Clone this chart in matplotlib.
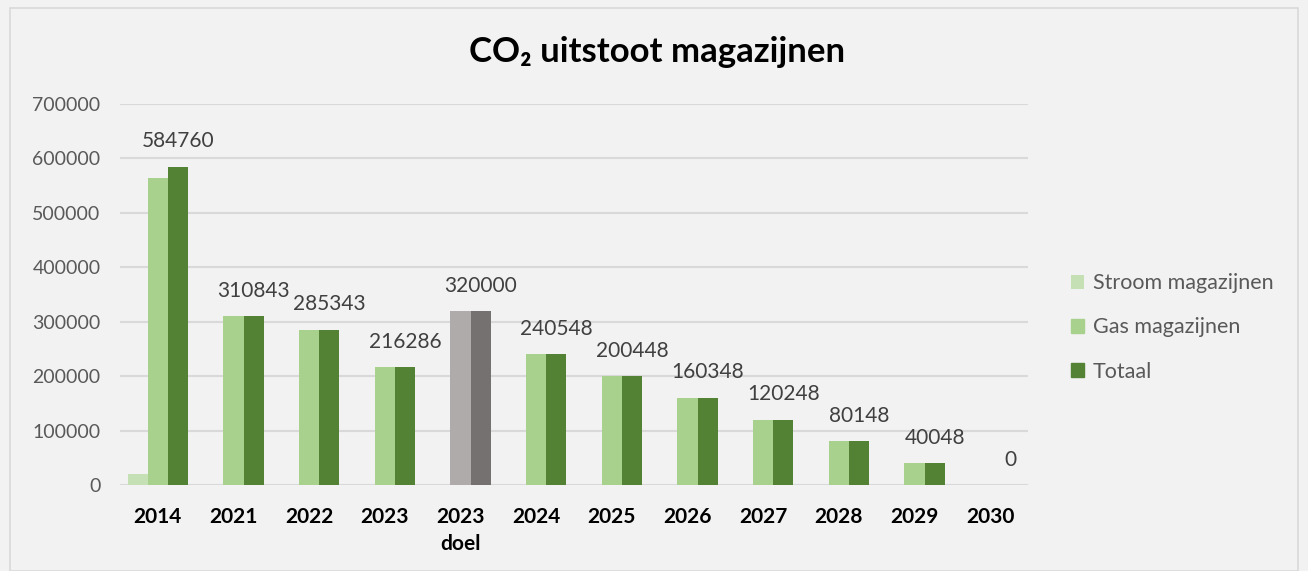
import matplotlib
matplotlib.use("Agg")
import matplotlib.pyplot as plt
import numpy as np
from matplotlib.patches import Rectangle

categories = ["2014", "2021", "2022", "2023", "2023\ndoel", "2024", "2025",
              "2026", "2027", "2028", "2029", "2030"]
stroom = [20000, 0, 0, 0, 0, 0, 0, 0, 0, 0, 0, 0]
gas = [564760, 310843, 285343, 216286, 320000, 240548, 200448, 160348,
       120248, 80148, 40048, 0]
totaal = [584760, 310843, 285343, 216286, 320000, 240548, 200448, 160348,
          120248, 80148, 40048, 0]
series_names = ["Stroom magazijnen", "Gas magazijnen", "Totaal"]
highlight_index = 4

plt.rcParams['font.family'] = ['Lato', 'DejaVu Sans']

c_stroom = "#C5E0B4"
c_gas = "#A9D18E"
c_tot = "#548235"
c_gas_hl = "#AFABAB"
c_tot_hl = "#767171"
bg = "#F2F2F2"

fig = plt.figure(figsize=(13.08, 5.71), dpi=100, facecolor=bg)
ax = fig.add_axes([120/1308, 86/571, 908/1308, 381/571])
ax.set_facecolor(bg)

x = np.arange(len(categories))
w = 0.265
gas_colors = [c_gas_hl if i == highlight_index else c_gas for i in range(len(x))]
tot_colors = [c_tot_hl if i == highlight_index else c_tot for i in range(len(x))]

b1 = ax.bar(x - w, stroom, w, color=c_stroom, label=series_names[0], zorder=3)
b2 = ax.bar(x, gas, w, color=gas_colors, label=series_names[1], zorder=3)
b3 = ax.bar(x + w, totaal, w, color=tot_colors, label=series_names[2], zorder=3)

ax.bar_label(b3, labels=[str(v) for v in totaal], padding=11, fontsize=15,
             color="#404040")

ax.set_xlim(-0.5, len(x) - 0.5)
ax.set_ylim(0, 700000)
ax.set_yticks(np.arange(0, 700001, 100000))
ax.set_yticklabels([str(v) for v in range(0, 700001, 100000)], fontsize=14,
                   color="#595959")
ax.set_xticks(x)
ax.set_xticklabels(categories, fontsize=15, fontweight="bold", color="black",
                   linespacing=1.45, va="top")
ax.tick_params(axis="both", length=0)
ax.tick_params(axis="x", pad=16)
ax.tick_params(axis="y", pad=14)
ax.grid(axis="y", color="#D9D9D9", linewidth=1.5, zorder=0)
for s in ax.spines.values():
    s.set_visible(False)

fig.text(657/1308, 1 - 52/571, "CO\u2082 uitstoot magazijnen", ha="center",
         va="center", fontsize=25, fontweight="bold", color="black")

leg = fig.legend(handles=[b1, b2, b3], labels=series_names,
                 loc="upper left", bbox_to_anchor=(1052/1308, 1 - 254/571),
                 frameon=False, fontsize=15.5, labelcolor="#595959",
                 handlelength=0.6, handleheight=0.6, handletextpad=0.4,
                 labelspacing=1.12)
leg.legend_handles[1].set_color(c_gas)
leg.legend_handles[2].set_color(c_tot)

fig.patches.append(Rectangle((10/1308, 0), 1 - 20/1308, 1 - 8/571,
                             transform=fig.transFigure, fill=False,
                             edgecolor="#D9D9D9", linewidth=1.2))

fig.savefig("out.png", dpi=100, facecolor=bg)
